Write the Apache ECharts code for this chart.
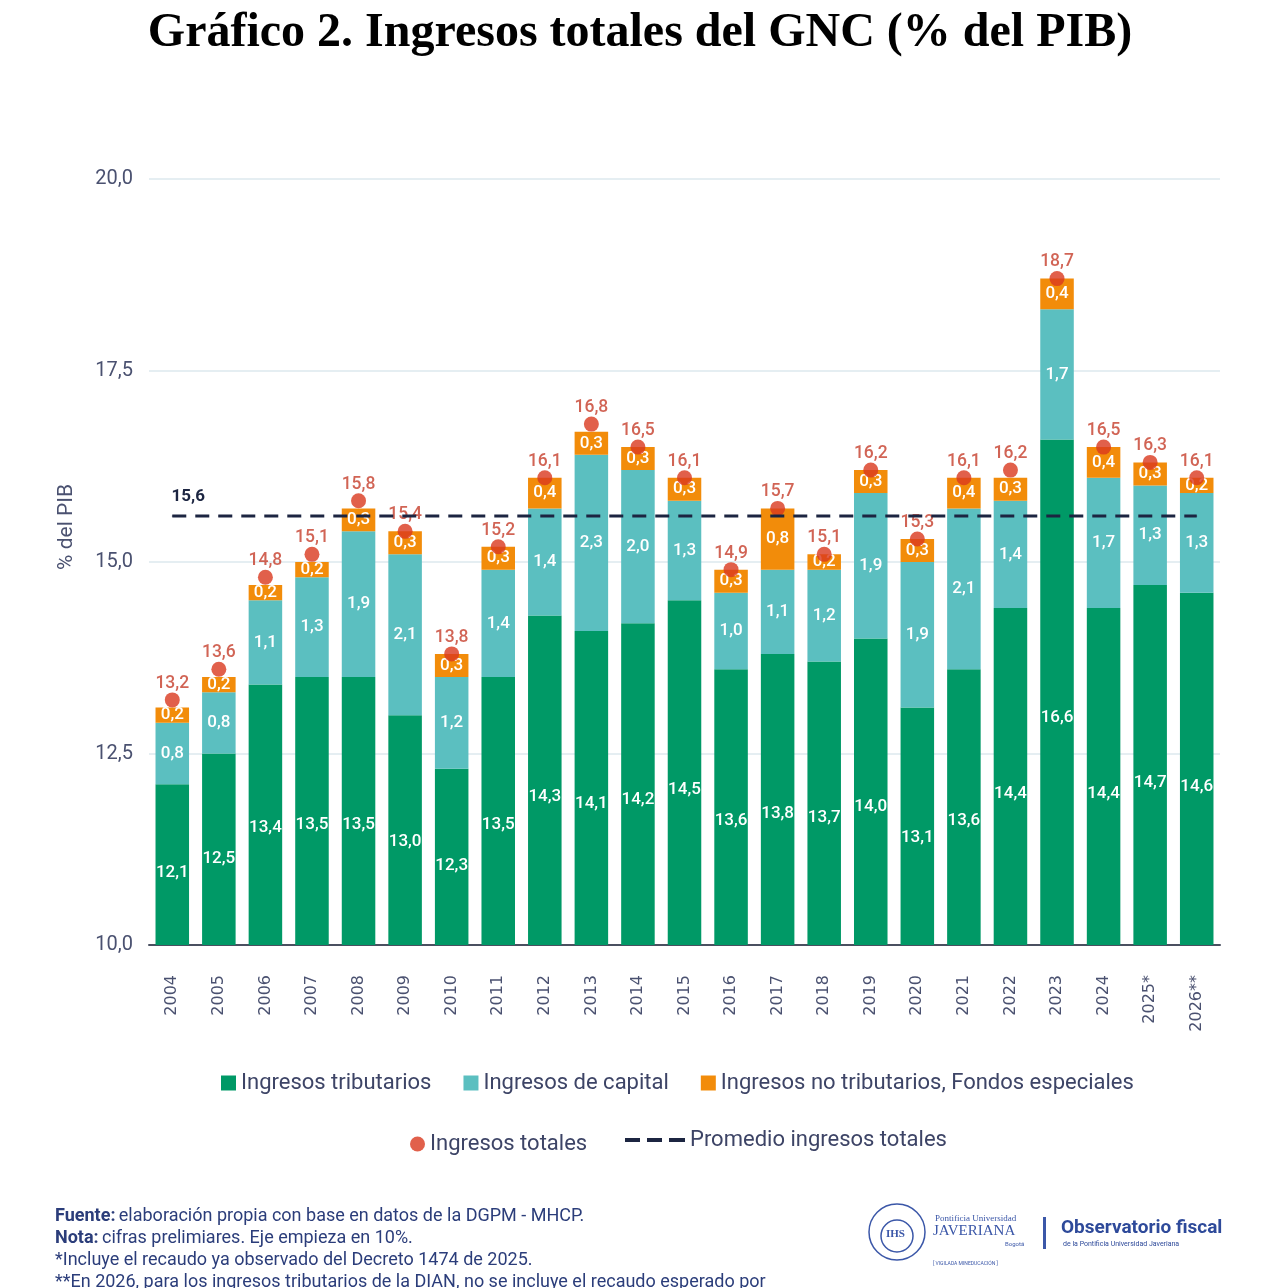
<!DOCTYPE html>
<html><head><meta charset="utf-8">
<script src="https://cdn.jsdelivr.net/npm/echarts@6/dist/echarts.min.js"></script>
<style>html,body{margin:0;padding:0;background:#fff}#c{width:1280px;height:1288px}</style>
</head><body><div id="c"></div>
<script>
const years = ['2004','2005','2006','2007','2008','2009','2010','2011','2012','2013','2014','2015','2016','2017','2018','2019','2020','2021','2022','2023','2024','2025*','2026**'];
const tributarios = [12.1,12.5,13.4,13.5,13.5,13.0,12.3,13.5,14.3,14.1,14.2,14.5,13.6,13.8,13.7,14.0,13.1,13.6,14.4,16.6,14.4,14.7,14.6];
const capital = [0.8,0.8,1.1,1.3,1.9,2.1,1.2,1.4,1.4,2.3,2.0,1.3,1.0,1.1,1.2,1.9,1.9,2.1,1.4,1.7,1.7,1.3,1.3];
const noTributarios = [0.2,0.2,0.2,0.2,0.3,0.3,0.3,0.3,0.4,0.3,0.3,0.3,0.3,0.8,0.2,0.3,0.3,0.4,0.3,0.4,0.4,0.3,0.2];
const totales = [13.2,13.6,14.8,15.1,15.8,15.4,13.8,15.2,16.1,16.8,16.5,16.1,14.9,15.7,15.1,16.2,15.3,16.1,16.2,18.7,16.5,16.3,16.1];
const promedio = 15.6;

const FONT = '"Roboto", "Noto Sans", sans-serif';
const fmt = v => Number(v).toFixed(1).replace('.', ',');
const segLabel = {show:true, position:'inside', color:'#ffffff', fontSize:17, fontWeight:500, fontFamily:FONT, formatter:p=>fmt(p.value)};
const legendText = {fontSize:22, color:'#3d4466', fontFamily:FONT};

const chart = echarts.init(document.getElementById('c'), null, {renderer:'canvas'});
chart.setOption({
  backgroundColor:'#ffffff',
  animation:false,
  title:{text:'Gráfico 2. Ingresos totales del GNC (% del PIB)', left:'center', top:5,
    textStyle:{fontFamily:'"Liberation Serif","DejaVu Serif",serif', fontWeight:'bold', fontSize:48, color:'#000'}},
  grid:{left:149, right:60, top:179, bottom:343, containLabel:false},
  legend:[
    {left:216, top:1067, itemWidth:15, itemHeight:15, itemGap:32, icon:'rect', textStyle:legendText,
     data:['Ingresos tributarios','Ingresos de capital','Ingresos no tributarios, Fondos especiales']},
    {left:405, top:1128, itemWidth:15, itemHeight:15, textStyle:legendText,
     data:[{name:'Ingresos totales', icon:'circle', itemStyle:{color:'#d9381e'}}]},
    {left:620, top:1124, itemWidth:60, itemHeight:4, textStyle:legendText,
     data:[{name:'Promedio ingresos totales', icon:'path://M0,0h15v4h-15z M22,0h15v4h-15z M44,0h16v4h-16z', itemStyle:{color:'#1c2541'}}]}
  ],
  xAxis:{type:'category', data:years,
    axisLine:{lineStyle:{color:'#4a5060', width:2}}, axisTick:{show:false},
    axisLabel:{rotate:90, margin:30, fontSize:16, color:'#4a5170', fontFamily:'"DejaVu Sans", sans-serif'}},
  yAxis:{type:'value', min:10, max:20, interval:2.5,
    axisLine:{show:false}, axisTick:{show:false},
    axisLabel:{formatter:v=>fmt(v), fontSize:20, color:'#4a5170', margin:16, fontFamily:FONT},
    splitLine:{lineStyle:{color:'#dde9ee', width:1.5}}},
  graphic:[
    {type:'text', left:56, top:484, rotation:Math.PI/2,
     style:{text:'% del PIB', fontSize:21, fill:'#4a5170', fontFamily:FONT}},
    {type:'text', left:55, top:1205,
     style:{rich:{b:{fontWeight:'bold', fontSize:18, fill:'#2b3d7a', fontFamily:FONT, lineHeight:22}, n:{fontSize:18, fill:'#2b3d7a', fontFamily:FONT, lineHeight:22}},
       text:'{b|Fuente:} {n|elaboración propia con base en datos de la DGPM - MHCP.}\n{b|Nota:} {n|cifras prelimiares. Eje empieza en 10%.}\n{n|*Incluye el recaudo ya observado del Decreto 1474 de 2025.}\n{n|**En 2026, para los ingresos tributarios de la DIAN, no se incluye el recaudo esperado por}',
       lineHeight:22, fill:'#2b3d7a'}},
    {type:'circle', shape:{cx:897, cy:1232, r:28}, style:{fill:'none', stroke:'#3b57a8', lineWidth:1.5}},
    {type:'circle', shape:{cx:897, cy:1236, r:16}, style:{fill:'none', stroke:'#3b57a8', lineWidth:1.5}},
    {type:'text', left:886, top:1229, style:{text:'IHS', fontSize:11, fill:'#3b57a8', fontFamily:'"Liberation Serif",serif', fontWeight:'bold'}},
    {type:'text', left:935, top:1214, style:{text:'Pontificia Universidad', fontSize:9, fill:'#3b57a8', fontFamily:'"Liberation Serif",serif'}},
    {type:'text', left:933, top:1224, style:{text:'JAVERIANA', fontSize:15, fill:'#3b57a8', fontFamily:'"Liberation Serif",serif'}},
    {type:'text', left:1005, top:1241, style:{text:'Bogotá', fontSize:6, fill:'#3b57a8', fontFamily:FONT}},
    {type:'text', left:933, top:1261, style:{text:'[ VIGILADA MINEDUCACIÓN ]', fontSize:5, fill:'#3b57a8', fontFamily:FONT}},
    {type:'rect', shape:{x:1043, y:1217, width:3, height:32}, style:{fill:'#3b57a8'}},
    {type:'text', left:1061, top:1219, style:{text:'Observatorio fiscal', fontSize:19, fontWeight:'bold', fill:'#2e4a9a', fontFamily:FONT}},
    {type:'text', left:1063, top:1241, style:{text:'de la Pontificia Universidad Javeriana', fontSize:7, fill:'#2e4a9a', fontFamily:FONT}}
  ],
  series:[
    {name:'Ingresos tributarios', type:'bar', stack:'t', data:tributarios, barWidth:'72%',
     itemStyle:{color:'#009966'},
     label:Object.assign({}, segLabel, {position:['50%','55%'], align:'center', verticalAlign:'middle'})},
    {name:'Ingresos de capital', type:'bar', stack:'t', data:capital,
     itemStyle:{color:'#5bbfc0'}, label:segLabel},
    {name:'Ingresos no tributarios, Fondos especiales', type:'bar', stack:'t', data:noTributarios,
     itemStyle:{color:'#f28c0a'}, label:segLabel},
    {name:'Ingresos totales', type:'scatter', data:totales, symbolSize:15, z:5,
     itemStyle:{color:'#d9381e'},
     label:{show:true, position:'top', distance:0, color:'#c63d2b', fontSize:17.5, fontWeight:500, fontFamily:FONT,
       formatter:p=>fmt(Array.isArray(p.value) ? p.value[1] : p.value)}},
    {name:'Promedio ingresos totales', type:'line', z:6,
     data:years.map((y,i)=> i===0 ? {value:promedio, label:{show:true}} : promedio),
     symbol:'circle', symbolSize:1, itemStyle:{color:'#1c2541'},
     lineStyle:{color:'#1c2541', width:3, type:[14,9]},
     label:{show:false, position:'top', distance:10, offset:[16,0], color:'#1c2541', fontSize:17, fontWeight:'bold', fontFamily:FONT, formatter:p=>fmt(p.value)}}
  ]
});
</script></body></html>
